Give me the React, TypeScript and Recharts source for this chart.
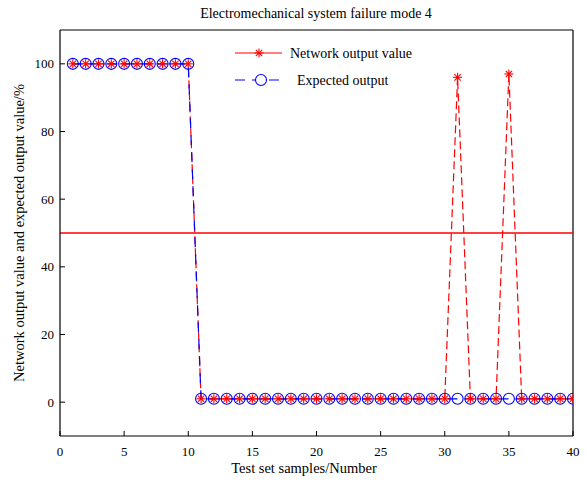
import React from 'react';
import { LineChart, Line, XAxis, YAxis, ReferenceLine, ReferenceDot } from 'recharts';

const samples = [1,2,3,4,5,6,7,8,9,10,11,12,13,14,15,16,17,18,19,20,21,22,23,24,25,26,27,28,29,30,31,32,33,34,35,36,37,38,39,40];
const networkOutput = [100,100,100,100,100,100,100,100,100,100,1,1,1,1,1,1,1,1,1,1,1,1,1,1,1,1,1,1,1,1,96,1,1,1,97,1,1,1,1,1];
const expectedOutput = [100,100,100,100,100,100,100,100,100,100,1,1,1,1,1,1,1,1,1,1,1,1,1,1,1,1,1,1,1,1,1,1,1,1,1,1,1,1,1,1];
const xTicks = [0,5,10,15,20,25,30,35,40];
const yTicks = [0,20,40,60,80,100];
const threshold = 50;

const data = samples.map((s, i) => ({ x: s, net: networkOutput[i], exp: expectedOutput[i] }));

const FONT = 'Liberation Serif, Times New Roman, serif';

const Star = (props: any) => {
  const { cx, cy } = props;
  if (cx == null || cy == null) return null;
  const r = 4.5;
  const d = r * 0.707;
  return (
    <g stroke="#ff0000" strokeWidth={1.1}>
      <line x1={cx - r} y1={cy} x2={cx + r} y2={cy} />
      <line x1={cx} y1={cy - r} x2={cx} y2={cy + r} />
      <line x1={cx - d} y1={cy - d} x2={cx + d} y2={cy + d} />
      <line x1={cx - d} y1={cy + d} x2={cx + d} y2={cy - d} />
    </g>
  );
};

const Circ = (props: any) => {
  const { cx, cy } = props;
  if (cx == null || cy == null) return null;
  return <circle cx={cx} cy={cy} r={5.5} fill="none" stroke="#0000ff" strokeWidth={1.1} />;
};

const XTickMark = (props: any) => {
  const { cx, cy } = props;
  if (cx == null || cy == null) return <g />;
  return <line x1={cx} y1={cy} x2={cx} y2={cy - 5} stroke="#000" strokeWidth={1} />;
};

const YTickMark = (props: any) => {
  const { cx, cy } = props;
  if (cx == null || cy == null) return <g />;
  return <line x1={cx} y1={cy} x2={cx + 5} y2={cy} stroke="#000" strokeWidth={1} />;
};

const tickStyle = { fontFamily: FONT, fontSize: 13, fill: '#000' };

export default function App() {
  return (
    <div style={{ position: 'absolute', left: 0, top: 0, width: 587, height: 485, background: '#fff', fontFamily: FONT }}>
      <LineChart width={587} height={485} data={data} margin={{ top: 30, right: 14, bottom: 0, left: 0 }}>
        <XAxis
          dataKey="x"
          type="number"
          domain={[0, 40]}
          ticks={xTicks}
          tick={tickStyle}
          tickLine={false}
          tickSize={0}
          tickMargin={11}
          height={49}
          axisLine={{ stroke: '#000', strokeWidth: 1.2 }}
          allowDataOverflow
        />
        <YAxis
          type="number"
          domain={[-10, 110]}
          ticks={yTicks}
          tick={tickStyle}
          tickLine={false}
          tickSize={0}
          tickMargin={6}
          width={60}
          axisLine={{ stroke: '#000', strokeWidth: 1.2 }}
          allowDataOverflow
        />
        <ReferenceLine y={110} stroke="#000" strokeWidth={1.2} />
        <ReferenceLine x={40} stroke="#000" strokeWidth={1.2} />
        {xTicks.map((t) => (
          <ReferenceDot key={`xt${t}`} x={t} y={-10} r={1} ifOverflow="visible" shape={(p: any) => <XTickMark {...p} />} />
        ))}
        {yTicks.map((t) => (
          <ReferenceDot key={`yt${t}`} x={0} y={t} r={1} ifOverflow="visible" shape={(p: any) => <YTickMark {...p} />} />
        ))}
        <ReferenceLine y={threshold} stroke="#ff0000" strokeWidth={1.5} />
        <Line dataKey="net" stroke="#ff0000" strokeWidth={1.2} strokeDasharray="8 4" dot={<Star />} activeDot={false} isAnimationActive={false} />
        <Line dataKey="exp" stroke="#0000ff" strokeWidth={1.2} strokeDasharray="10 7" dot={<Circ />} activeDot={false} isAnimationActive={false} />
        <g>
          <line x1={235} y1={53} x2={282} y2={53} stroke="#ff0000" strokeWidth={1.2} />
          <Star cx={259} cy={53} />
          <text x={290} y={58} fontFamily={FONT} fontSize={14} fill="#000">Network output value</text>
          <line x1={235} y1={80} x2={282} y2={80} stroke="#0000ff" strokeWidth={1.2} strokeDasharray="10 7" />
          <circle cx={261} cy={80} r={5.5} fill="#fff" stroke="#0000ff" strokeWidth={1.1} />
          <text x={297} y={85} fontFamily={FONT} fontSize={14} fill="#000">Expected output</text>
        </g>
        <text x={316} y={18} textAnchor="middle" fontFamily={FONT} fontSize={14} fill="#000">Electromechanical system failure mode 4</text>
        <text x={304} y={473} textAnchor="middle" fontFamily={FONT} fontSize={14.5} fill="#000">Test set samples/Number</text>
        <text x={0} y={0} transform="translate(24,233) rotate(-90)" textAnchor="middle" fontFamily={FONT} fontSize={14.5} fill="#000">Network output value and expected output value/%</text>
      </LineChart>
    </div>
  );
}
